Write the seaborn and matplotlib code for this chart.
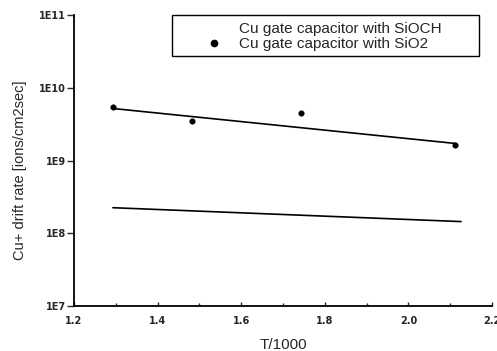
import matplotlib
matplotlib.use("Agg")
import matplotlib.pyplot as plt
import matplotlib.ticker as mticker
from matplotlib.lines import Line2D
from matplotlib.patches import Rectangle
import seaborn as sns
import pandas as pd

# data
sio2_x = [1.293, 1.483, 1.743, 2.112]
sio2_y = [5.4e9, 3.5e9, 4.5e9, 1.65e9]
sio2_fit_x = [1.293, 2.112]
sio2_fit_y = [5.2e9, 1.72e9]
sioch_fit_x = [1.293, 2.126]
sioch_fit_y = [2.25e8, 1.45e8]
y_ticks = [1e7, 1e8, 1e9, 1e10, 1e11]
y_tick_labels = ["1E7", "1E8", "1E9", "1E10", "1E11"]
x_ticks = [1.2, 1.4, 1.6, 1.8, 2.0, 2.2]
x_tick_labels = ["1.2", "1.4", "1.6", "1.8", "2.0", "2.2"]
legend_labels = ["Cu gate capacitor with SiOCH", "Cu gate capacitor with SiO2"]

sns.set_style("ticks")
plt.rcParams["font.family"] = ["Liberation Sans", "DejaVu Sans"]

fig = plt.figure(figsize=(4.97, 3.51), dpi=100)
ax = fig.add_axes([0.149, 0.128, 0.841, 0.829])

df_pts = pd.DataFrame({"x": sio2_x, "y": sio2_y})
df_fit1 = pd.DataFrame({"x": sio2_fit_x, "y": sio2_fit_y})
df_fit2 = pd.DataFrame({"x": sioch_fit_x, "y": sioch_fit_y})

sns.lineplot(data=df_fit2, x="x", y="y", ax=ax, color="black", lw=1.2)
sns.lineplot(data=df_fit1, x="x", y="y", ax=ax, color="black", lw=1.2)
sns.scatterplot(data=df_pts, x="x", y="y", ax=ax, color="black", s=16,
                edgecolor="black", zorder=5)

ax.set_yscale("log")
ax.set_ylim(1e7, 1e11)
ax.set_xlim(1.2, 2.2)
ax.set_yticks(y_ticks)
ax.set_yticklabels(y_tick_labels, fontsize=7, fontweight="bold", family="DejaVu Sans")
ax.yaxis.set_minor_locator(mticker.NullLocator())
ax.set_xticks(x_ticks)
ax.set_xticklabels(x_tick_labels, fontsize=7, fontweight="bold", family="DejaVu Sans")
ax.xaxis.set_minor_locator(mticker.MultipleLocator(0.1))
ax.tick_params(axis="x", which="both", direction="in", length=3, width=1, pad=7)
ax.tick_params(axis="x", which="minor", length=2)
ax.tick_params(axis="y", which="both", direction="out", length=5, width=1, pad=1)
for s in ["top", "right"]:
    ax.spines[s].set_visible(False)
for s in ["left", "bottom"]:
    ax.spines[s].set_linewidth(1.3)
    ax.spines[s].set_color("black")

ax.set_xlabel("T/1000", fontsize=11, labelpad=9)
ax.set_ylabel("Cu+ drift rate [ions/cm2sec]", fontsize=10.5)
ax.yaxis.set_label_coords(-0.112, 0.467)

# legend box drawn as a frame rectangle
ax.add_patch(Rectangle((0.2344, 0.859), 0.7344, 0.141, transform=ax.transAxes,
                       facecolor="white", edgecolor="black", lw=1.0,
                       clip_on=False, zorder=6))
handles = [Line2D([], [], color="none"),
           Line2D([], [], marker="o", color="black", ls="none", markersize=4.5)]
leg = ax.legend(handles, legend_labels, loc="upper left",
                bbox_to_anchor=(0.2344, 0.993), fontsize=11, frameon=False,
                borderpad=0.3, handlelength=4.85,
                handletextpad=-0.75, labelspacing=0.1, borderaxespad=0.0,
                numpoints=1)
leg.set_zorder(7)

fig.savefig("out.png", dpi=100)
